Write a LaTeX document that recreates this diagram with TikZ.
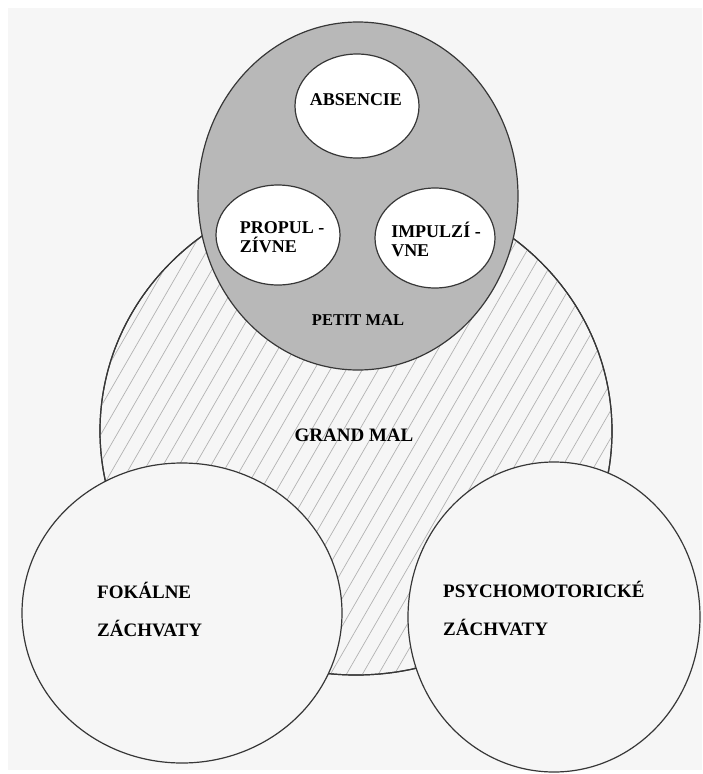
\documentclass[tikz,border=0pt]{standalone}
\usepackage{fontspec}
\setmainfont{Liberation Serif}
\usetikzlibrary{shapes.geometric}

\definecolor{paper}{RGB}{246,246,246}
\definecolor{petitgray}{RGB}{184,184,184}
\definecolor{rim}{RGB}{55,55,55}

\tikzset{
blob/.style={ellipse, draw=rim, line width=1.2pt, inner sep=0pt},
lbl/.style={font=\bfseries\fontsize{18}{19}\selectfont, inner sep=0pt, align=left},
biglbl/.style={font=\bfseries\fontsize{19}{38}\selectfont, inner sep=0pt, align=left, anchor=west},
hatch/.style={draw=gray!60, line width=0.7pt}
}

\begin{document}
\begin{tikzpicture}[x=1pt,y=-1pt]
\useasboundingbox (0,0) rectangle (702,774);
\fill[paper] (8,8) rectangle (702,770);

\node[blob, fill=paper, minimum width=512, minimum height=488] (grandmal) at (356,431) {};
\begin{scope}
\clip (356,431) ellipse [x radius=256, y radius=244];
\foreach \i [evaluate=\i as \xs using \i*16] in {-15,...,40}
\draw[hatch] (\xs,720) --++(-60:800);
\end{scope}
\draw[rim, line width=1.2pt] (356,431) ellipse [x radius=256, y radius=244];

\node[blob, fill=paper, minimum width=320, minimum height=300] (fokalne) at (182,613) {};
\node[blob, fill=paper, minimum width=292, minimum height=310] (psycho) at (554,617) {};

\node[blob, fill=petitgray, minimum width=320, minimum height=348] (petitmal) at (358,196) {};
\node[blob, fill=white, minimum width=124, minimum height=104] (absencie) at (357,106) {};
\node[blob, fill=white, minimum width=124, minimum height=100] (propul) at (278,235) {};
\node[blob, fill=white, minimum width=120, minimum height=100] (impul) at (435,238) {};

\node[lbl] (absencieText) at (356,100) {ABSENCIE};
\node[lbl] (propulText) at (282,237) {PROPUL -\\ZÍVNE};
\node[lbl] (impulText) at (436,239) {IMPULZÍ -\\VNE};
\node[lbl, font=\bfseries\fontsize{16.5}{18}\selectfont] (petitText) at (358,320) {PETIT MAL};
\node[lbl, font=\bfseries\fontsize{19}{20}\selectfont] (grandText) at (354,435) {GRAND MAL};

\node[biglbl] (fokalneText) at (97,609) {FOKÁLNE\\ZÁCHVATY};
\node[biglbl] (psychoText) at (443,608) {PSYCHOMOTORICKÉ\\ZÁCHVATY};

\end{tikzpicture}
\end{document}
